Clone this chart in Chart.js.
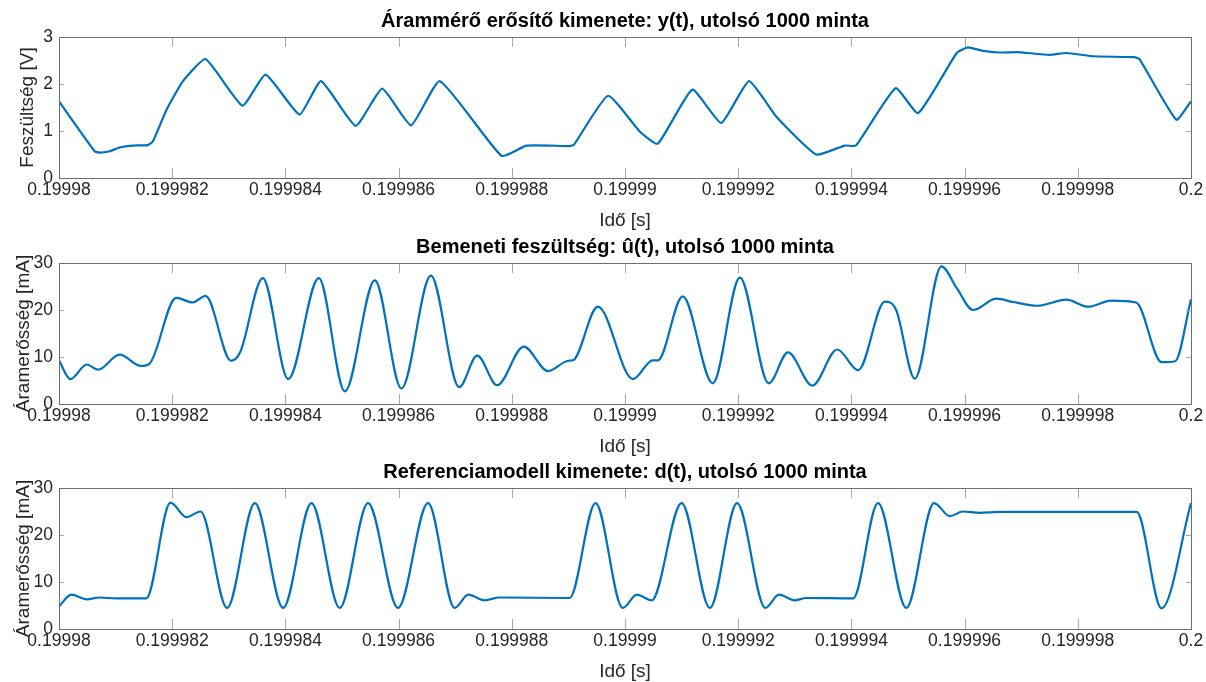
<!DOCTYPE html>
<html>
<head>
<meta charset="utf-8">
<script src="https://cdn.jsdelivr.net/npm/chart.js@4"></script>
<style>
  body { margin: 0; background: #fff; width: 1206px; height: 682px; overflow: hidden; position: relative; }
  canvas { position: absolute; left: 0; }
</style>
</head>
<body>
<canvas id="c1" width="1206" height="232" style="top:0px"></canvas>
<canvas id="c2" width="1206" height="232" style="top:226px"></canvas>
<canvas id="c3" width="1206" height="232" style="top:451px"></canvas>
<script>
// x axis ticks (time in seconds)
const xTicks = [0.19998, 0.199982, 0.199984, 0.199986, 0.199988, 0.19999, 0.199992, 0.199994, 0.199996, 0.199998, 0.2];
const xTickLabels = ['0.19998', '0.199982', '0.199984', '0.199986', '0.199988', '0.19999', '0.199992', '0.199994', '0.199996', '0.199998', '0.2'];

// y(t) - amplifier output [V]
const yTime = [0.19998000, 0.19998063, 0.19998072, 0.19998090, 0.19998107, 0.19998130, 0.19998157, 0.19998166, 0.19998190, 0.19998219,
  0.19998259, 0.19998324, 0.19998365, 0.19998425, 0.19998463, 0.19998524, 0.19998571, 0.19998622, 0.19998673, 0.19998782,
  0.19998826, 0.19998902, 0.19998910, 0.19998970, 0.19999026, 0.19999058, 0.19999119, 0.19999170, 0.19999219, 0.19999267,
  0.19999338, 0.19999388, 0.19999408, 0.19999478, 0.19999518, 0.19999586, 0.19999606, 0.19999630, 0.19999662, 0.19999692,
  0.19999750, 0.19999780, 0.19999826, 0.19999900, 0.19999909, 0.19999974, 0.20000000];
const yVolt = [1.63, 0.57, 0.54, 0.57, 0.65, 0.69, 0.70, 0.78, 1.45, 2.06,
  2.53, 1.54, 2.20, 1.35, 2.06, 1.11, 1.90, 1.12, 2.06, 0.47,
  0.69, 0.68, 0.71, 1.75, 0.99, 0.73, 1.88, 1.17, 2.06, 1.31,
  0.50, 0.69, 0.69, 1.91, 1.38, 2.66, 2.78, 2.71, 2.67, 2.68,
  2.62, 2.66, 2.59, 2.57, 2.53, 1.24, 1.63];

// û(t) - input [mA]
const uTime = [0.19998000, 0.19998020, 0.19998049, 0.19998069, 0.19998107, 0.19998145, 0.19998160, 0.19998207, 0.19998236, 0.19998259,
  0.19998304, 0.19998320, 0.19998360, 0.19998405, 0.19998459, 0.19998505, 0.19998558, 0.19998605, 0.19998657, 0.19998707,
  0.19998739, 0.19998774, 0.19998821, 0.19998864, 0.19998900, 0.19998908, 0.19998952, 0.19999014, 0.19999049, 0.19999058,
  0.19999102, 0.19999155, 0.19999203, 0.19999254, 0.19999288, 0.19999331, 0.19999375, 0.19999412, 0.19999459, 0.19999479,
  0.19999512, 0.19999559, 0.19999586, 0.19999615, 0.19999656, 0.19999686, 0.19999728, 0.19999780, 0.19999818, 0.19999859,
  0.19999903, 0.19999948, 0.19999972, 0.20000000];
const uValues = [9.3, 5.3, 8.4, 7.3, 10.5, 8.1, 8.6, 22.6, 21.6, 23.0,
  9.2, 11.0, 26.8, 5.3, 26.8, 2.7, 26.3, 3.3, 27.3, 3.6,
  10.3, 4.0, 12.2, 7.0, 9.2, 9.3, 20.7, 5.3, 9.3, 9.3,
  22.9, 4.4, 26.9, 4.4, 11.0, 3.9, 11.6, 7.2, 21.8, 20.0,
  5.4, 29.3, 24.7, 20.0, 22.4, 21.7, 20.9, 22.2, 20.7, 22.0,
  21.6, 8.9, 9.1, 22.3];

// d(t) - reference model output [mA]
const dTime = [0.19998000, 0.19998022, 0.19998049, 0.19998072, 0.19998101, 0.19998154, 0.19998197, 0.19998225, 0.19998250, 0.19998297,
  0.19998346, 0.19998396, 0.19998446, 0.19998496, 0.19998546, 0.19998599, 0.19998652, 0.19998699, 0.19998723, 0.19998752,
  0.19998778, 0.19998902, 0.19998948, 0.19998996, 0.19999021, 0.19999047, 0.19999100, 0.19999150, 0.19999198, 0.19999248,
  0.19999272, 0.19999300, 0.19999320, 0.19999403, 0.19999447, 0.19999497, 0.19999546, 0.19999574, 0.19999597, 0.19999627,
  0.19999660, 0.19999904, 0.19999948, 0.20000000];
const dValues = [4.8, 7.3, 6.3, 6.7, 6.5, 6.5, 26.9, 23.8, 25.0, 4.5,
  26.8, 4.5, 26.8, 4.5, 26.8, 4.5, 26.8, 4.5, 7.3, 6.1,
  6.7, 6.6, 26.8, 4.5, 7.3, 6.1, 26.8, 4.5, 26.8, 4.5,
  7.3, 6.1, 6.6, 6.5, 26.8, 4.5, 26.8, 24.0, 25.0, 24.7,
  24.9, 24.9, 4.4, 26.8];

const FONT = "'Liberation Sans', Arial, Helvetica, sans-serif";
const TEXT = '#262626';

// MATLAB-like box with inward tick marks
const boxTicks = {
  id: 'boxTicks',
  afterDatasetsDraw(chart) {
    const { ctx, chartArea: a, scales: { x, y } } = chart;
    ctx.save();
    ctx.lineWidth = 1;
    ctx.strokeStyle = '#a8a8a8';
    ctx.beginPath();
    x.ticks.forEach(t => {
      const px = Math.round(x.getPixelForValue(t.value)) + 0.5;
      ctx.moveTo(px, a.top); ctx.lineTo(px, a.top + 10);
      ctx.moveTo(px, a.bottom); ctx.lineTo(px, a.bottom - 10);
    });
    y.ticks.forEach(t => {
      const py = Math.round(y.getPixelForValue(t.value)) + 0.5;
      ctx.moveTo(a.left, py); ctx.lineTo(a.left + 5, py);
      ctx.moveTo(a.right, py); ctx.lineTo(a.right - 5, py);
    });
    ctx.stroke();
    ctx.strokeStyle = '#6e6e6e';
    ctx.strokeRect(Math.round(a.left) + 0.5, Math.round(a.top) + 0.5, Math.round(a.width), Math.round(a.height));
    ctx.restore();
  }
};

function makeChart(id, times, values, opts) {
  const ctx = document.getElementById(id).getContext('2d');
  return new Chart(ctx, {
    type: 'line',
    data: {
      datasets: [{
        data: times.map((t, i) => ({ x: t, y: values[i] })),
        borderColor: '#0072BD',
        borderWidth: 2.2,
        pointRadius: 0,
        fill: false,
        tension: opts.tension || 0,
        cubicInterpolationMode: opts.monotone ? 'monotone' : 'default'
      }]
    },
    options: {
      responsive: false,
      animation: false,
      events: [],
      devicePixelRatio: 1,
      layout: { padding: { left: 0, right: 15, top: 0, bottom: 0 } },
      plugins: {
        legend: { display: false },
        tooltip: { enabled: false },
        title: {
          display: true,
          text: opts.title,
          fullSize: false,
          color: '#000',
          font: { family: FONT, size: 20, weight: 'bold', lineHeight: 1.2 },
          padding: { top: 9.3, bottom: 3.7 }
        }
      },
      scales: {
        x: {
          type: 'linear',
          min: 0.19998,
          max: 0.2,
          afterBuildTicks: s => { s.ticks = xTicks.map(v => ({ value: v })); },
          afterFit: s => { s.height = 54; },
          grid: { display: false, drawTicks: false },
          border: { display: false },
          ticks: {
            autoSkip: false,
            maxRotation: 0,
            padding: 1.5,
            color: TEXT,
            font: { family: FONT, size: 17.5 },
            callback: (v, i) => xTickLabels[i]
          },
          title: {
            display: true,
            text: 'Idő [s]',
            color: TEXT,
            font: { family: FONT, size: 19, lineHeight: 1.2 },
            padding: { top: 0, bottom: 0 }
          }
        },
        y: {
          min: opts.yMin,
          max: opts.yMax,
          afterFit: s => { s.width = 59; },
          grid: { display: false, drawTicks: false },
          border: { display: false },
          ticks: {
            stepSize: opts.yStep,
            padding: 6,
            color: TEXT,
            font: { family: FONT, size: 17.5 }
          },
          title: {
            display: true,
            text: opts.yTitle,
            color: TEXT,
            font: { family: FONT, size: 19, lineHeight: 1.2 },
            padding: { top: opts.yTitlePad, bottom: 0 }
          }
        }
      }
    },
    plugins: [boxTicks]
  });
}

makeChart('c1', yTime, yVolt, {
  title: 'Árammérő erősítő kimenete: y(t), utolsó 1000 minta',
  yTitle: 'Feszültség [V]', yMin: 0, yMax: 3, yStep: 1, yTitlePad: 16, tension: 0.15
});
makeChart('c2', uTime, uValues, {
  title: 'Bemeneti feszültség: û(t), utolsó 1000 minta',
  yTitle: 'Áramerősség [mA]', yMin: 0, yMax: 30, yStep: 10, yTitlePad: 12, monotone: true
});
makeChart('c3', dTime, dValues, {
  title: 'Referenciamodell kimenete: d(t), utolsó 1000 minta',
  yTitle: 'Áramerősség [mA]', yMin: 0, yMax: 30, yStep: 10, yTitlePad: 12, monotone: true
});
</script>
</body>
</html>
